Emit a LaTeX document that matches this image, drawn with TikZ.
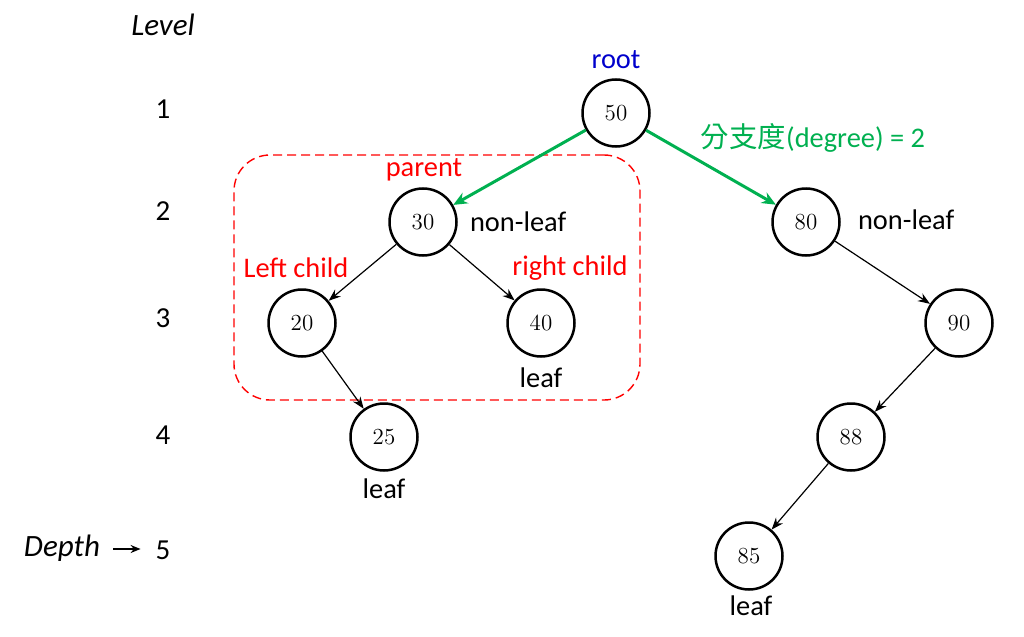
\documentclass[tikz,border=0pt]{standalone}
\usepackage{fontspec}
\setmainfont{Carlito}
\newfontfamily\cjkfont{Noto Sans CJK TC}
\newcommand\numfont{\fontfamily{lmr}\selectfont}
\usetikzlibrary{arrows.meta}
\definecolor{officegreen}{RGB}{0,176,80}
\definecolor{rootblue}{RGB}{0,0,204}

\begin{document}
\begin{tikzpicture}[x=0.5pt, y=-0.5pt,
    vtx/.style = {circle, draw, line width=1.25pt, minimum size=33.5pt, inner sep=0pt,
                  font=\numfont\fontsize{11.5}{13}\selectfont},
    lbl/.style = {font=\fontsize{14.2}{17}\selectfont},
    lvl/.style = {font=\fontsize{14.5}{17}\selectfont},
    edge/.style = {-{Stealth[length=6pt, width=4.5pt]}, line width=0.6pt},
    degree/.style = {-{Stealth[length=7pt, width=6pt]}, line width=1.5pt, officegreen}]
    \useasboundingbox (0,0) rectangle (1024,637);
    % levels
    \node (level) at (163,25) [lvl, font=\fontsize{15.5}{18}\selectfont\itshape] {Level};
    \node (d1) at (163,109) [lvl] {1};
    \node (d2) at (163,211) [lvl] {2};
    \node (d3) at (163,318) [lvl] {3};
    \node (d4) at (163,435) [lvl] {4};
    \node (d5) at (163,550) [lvl] {5};
    \node (depth) at (62,548) [lvl, font=\fontsize{15.5}{18}\selectfont\itshape] {Depth};
    \draw[-{Stealth[length=5pt, width=4pt]}, line width=0.6pt, shorten >=4pt] (depth.east) ++(6,1) coordinate (dstart) -- (d5.west |- dstart);
    % subtree box
    \node (subtree) at (437,277.5) [draw=red, dash pattern=on 4.5pt off 2.5pt, line width=0.7pt,
        rounded corners=18pt, minimum width=203pt, minimum height=122.5pt] {};
    % tree
    \node (n50) at (616,113) [vtx] {50};
    \node (n30) at (423,222) [vtx] {30};
    \node (n80) at (806,222) [vtx] {80};
    \node (n20) at (302,323) [vtx] {20};
    \node (n40) at (541,323) [vtx] {40};
    \node (n90) at (959,323) [vtx] {90};
    \node (n25) at (384,437) [vtx] {25};
    \node (n88) at (851,437) [vtx] {88};
    \node (n85) at (749,556) [vtx] {85};
    \draw[degree] (n50) -- (n30);
    \draw[degree] (n50) -- (n80);
    \draw[edge] (n30) -- (n20);
    \draw[edge] (n30) -- (n40);
    \draw[edge] (n20) -- (n25);
    \draw[edge] (n80) -- (n90);
    \draw[edge] (n90) -- (n88);
    \draw[edge] (n88) -- (n85);
    % labels
    \node (root) at (616,60) [lbl, text=rootblue] {root};
    \node (deg) at (813,138) [lbl, text=officegreen] {{\cjkfont 分支度}(degree) = 2};
    \node (parent) at (424,170) [lbl, text=red] {parent};
    \node (nl30) at (463,222) [lbl, anchor=west] {non-leaf};
    \node (nl80) at (851,220) [lbl, anchor=west] {non-leaf};
    \node (lchild) at (296,268) [lbl, text=red] {Left child};
    \node (rchild) at (570,268) [lbl, text=red] {right child};
    \node (lf40) at (541,378) [lbl] {leaf};
    \node (lf25) at (384,489) [lbl] {leaf};
    \node (lf85) at (751,606) [lbl] {leaf};
\end{tikzpicture}
\end{document}
